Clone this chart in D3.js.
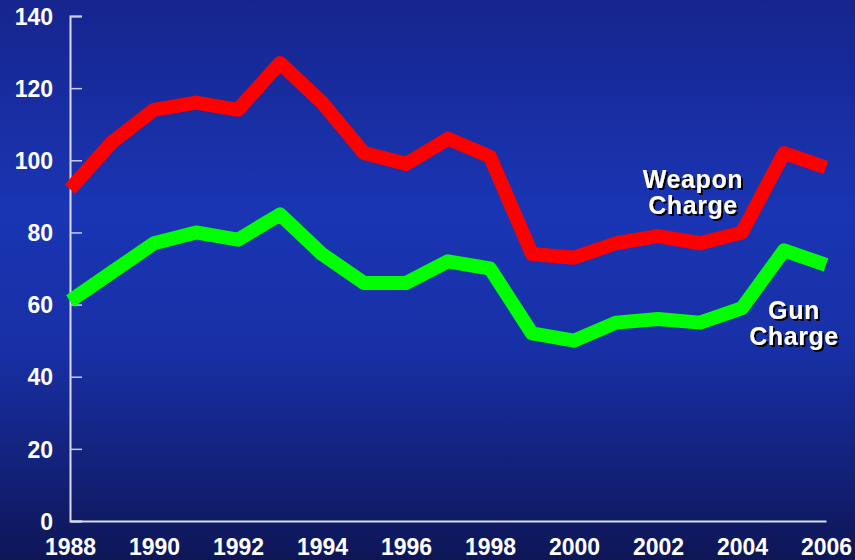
<!DOCTYPE html>
<html>
<head>
<meta charset="utf-8">
<script src="https://cdn.jsdelivr.net/npm/d3@7"></script>
<style>
  body { margin: 0; }
  svg { display: block; font-family: "Liberation Sans", Arial, sans-serif; }
  .tick text { fill: #fff; font-weight: bold; font-size: 23px; font-family: "Liberation Sans", Arial, sans-serif; }
</style>
</head>
<body>
<svg></svg>
<script>
// data
const years = [1988, 1989, 1990, 1991, 1992, 1993, 1994, 1995, 1996, 1997,
  1998, 1999, 2000, 2001, 2002, 2003, 2004, 2005, 2006];
const weaponCharge = [92, 105, 114, 116, 114, 127, 116, 102, 99, 106,
  101, 74, 73, 77, 79, 77, 80, 102, 98];
const gunCharge = [61, 69, 77, 80, 78, 85, 74, 66, 66, 72,
  70, 52, 50, 55, 56, 55, 59, 75, 71];
const yTicks = [0, 20, 40, 60, 80, 100, 120, 140];
const xTicks = [1988, 1990, 1992, 1994, 1996, 1998, 2000, 2002, 2004, 2006];

const width = 855;
const height = 560;
const margin = { top: 16, right: 28, bottom: 39, left: 70 };

const svg = d3.select('svg')
  .attr('width', width)
  .attr('height', height);

// background gradient
const defs = svg.append('defs');
const grad = defs.append('linearGradient')
  .attr('id', 'bg')
  .attr('x1', 0).attr('y1', 0).attr('x2', 0).attr('y2', 1);
grad.append('stop').attr('offset', '0%').attr('stop-color', '#16258e');
grad.append('stop').attr('offset', '38%').attr('stop-color', '#1a35b4');
grad.append('stop').attr('offset', '62%').attr('stop-color', '#1830a6');
grad.append('stop').attr('offset', '100%').attr('stop-color', '#0e1656');

const shadow = defs.append('filter').attr('id', 'shadow')
  .attr('x', -0.1).attr('y', -0.2).attr('width', 1.3).attr('height', 1.5);
shadow.append('feDropShadow')
  .attr('dx', 2).attr('dy', 2)
  .attr('stdDeviation', 0.5)
  .attr('flood-color', '#000')
  .attr('flood-opacity', 1);

svg.append('rect')
  .attr('width', width)
  .attr('height', height)
  .attr('fill', 'url(#bg)');

const x = d3.scaleLinear()
  .domain([1988, 2006])
  .range([margin.left, width - margin.right - 1]);

const y = d3.scaleLinear()
  .domain([0, 140])
  .range([height - margin.bottom, margin.top]);

// y axis (ticks point inward)
const yAxis = svg.append('g')
  .attr('transform', `translate(${margin.left}, 0)`)
  .call(d3.axisRight(y).tickValues(yTicks).tickSize(12).tickPadding(0));
yAxis.select('.domain')
  .attr('stroke', '#d8dcee')
  .attr('stroke-width', 2);
yAxis.selectAll('.tick line')
  .attr('stroke', '#c8cce6')
  .attr('stroke-width', 1.5);
yAxis.selectAll('.tick text')
  .attr('text-anchor', 'end')
  .attr('x', -17)
  .attr('dy', '0.36em');

// x axis
const xAxis = svg.append('g')
  .attr('transform', `translate(0, ${height - margin.bottom})`)
  .call(d3.axisBottom(x).tickValues(xTicks).tickFormat(d3.format('d')).tickSize(0).tickPadding(0));
xAxis.select('.domain')
  .attr('stroke', '#d8dcee')
  .attr('stroke-width', 2);
xAxis.selectAll('.tick text')
  .attr('y', 34)
  .attr('dy', 0);

// lines
const line = d3.line()
  .x((d, i) => x(years[i]))
  .y((d) => y(d));

svg.append('path')
  .datum(weaponCharge)
  .attr('fill', 'none')
  .attr('stroke', '#ff0000')
  .attr('stroke-width', 14)
  .attr('stroke-linejoin', 'round')
  .attr('d', line);

svg.append('path')
  .datum(gunCharge)
  .attr('fill', 'none')
  .attr('stroke', '#00ff00')
  .attr('stroke-width', 14)
  .attr('stroke-linejoin', 'round')
  .attr('d', line);

// series labels, one text per line
function label(lines, cx, baseline) {
  lines.forEach((s, i) => {
    svg.append('text')
      .attr('text-anchor', 'middle')
      .attr('fill', '#fff')
      .attr('font-weight', 'bold')
      .attr('font-size', 25)
      .attr('letter-spacing', 0.6)
      .attr('filter', 'url(#shadow)')
      .attr('x', cx)
      .attr('y', baseline + i * 26)
      .text(s);
  });
}
label(['Weapon', 'Charge'], x(2003) - 7, 188);
label(['Gun', 'Charge'], x(2005) + 10, 319);
</script>
</body>
</html>
